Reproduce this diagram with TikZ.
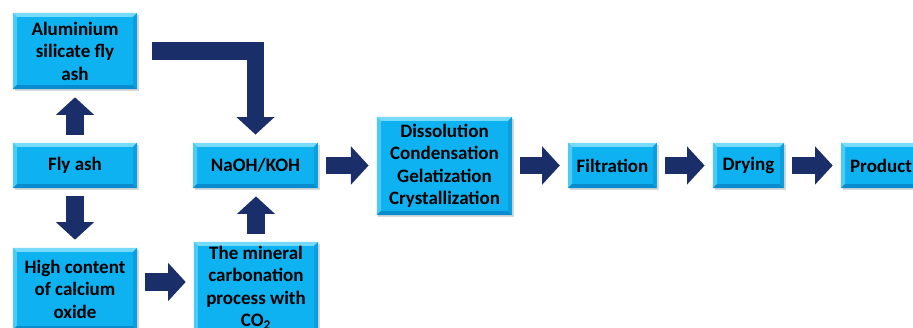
\documentclass[tikz,border=0pt]{standalone}
\usepackage{fontspec}
\setmainfont{Carlito}
\usetikzlibrary{arrows.meta,shadows}
\definecolor{boxblue}{RGB}{14,178,240}
\definecolor{boxlight}{RGB}{120,218,250}
\definecolor{boxdark}{RGB}{8,140,205}
\definecolor{arrowblue}{RGB}{26,46,106}
\tikzset{
	stepbox/.style={fill=boxblue,inner sep=0pt,align=center,font=\fontsize{13.5}{16}\selectfont\bfseries,
		drop shadow={opacity=0.3,shadow xshift=0.04cm,shadow yshift=-0.05cm},
		path picture={
			\fill[boxlight] (path picture bounding box.north west) -- (path picture bounding box.north east) -- ([shift={(-0.1cm,-0.1cm)}]path picture bounding box.north east) -- ([shift={(0.1cm,-0.1cm)}]path picture bounding box.north west) -- cycle;
			\fill[boxlight!60!boxblue] (path picture bounding box.north west) -- ([shift={(0.1cm,-0.1cm)}]path picture bounding box.north west) -- ([shift={(0.1cm,0.1cm)}]path picture bounding box.south west) -- (path picture bounding box.south west) -- cycle;
			\fill[boxdark] (path picture bounding box.south west) -- (path picture bounding box.south east) -- ([shift={(-0.1cm,0.1cm)}]path picture bounding box.south east) -- ([shift={(0.1cm,0.1cm)}]path picture bounding box.south west) -- cycle;
			\fill[boxdark!50!boxblue] (path picture bounding box.north east) -- ([shift={(-0.1cm,-0.1cm)}]path picture bounding box.north east) -- ([shift={(-0.1cm,0.1cm)}]path picture bounding box.south east) -- (path picture bounding box.south east) -- cycle;
		}},
	flowarrow/.style={draw=arrowblue,line width=0.43cm,line join=miter,-{Triangle[length=0.44cm,width=0.93cm]},shorten <=0.2cm,shorten >=0.2cm}
}
\begin{document}
\begin{tikzpicture}[x=0.025cm,y=-0.025cm]
	\path[use as bounding box,clip] (0,0) rectangle (913,328);
	
	\node[stepbox,minimum width=3.1cm,minimum height=1.9cm] (alu) at (75,51) {Aluminium\\silicate fly\\ash};
	\node[stepbox,minimum width=3.1cm,minimum height=1.13cm] (flyash) at (75,165.5) {Fly ash};
	\node[stepbox,minimum width=3.1cm,minimum height=2.05cm] (calcium) at (75,289) {High content\\of calcium\\oxide};
	
	\node[stepbox,minimum width=3.12cm,minimum height=1.13cm] (naoh) at (255.5,165.5) {NaOH/KOH};
	\node[stepbox,minimum width=3.1cm,minimum height=2.3cm] (carbonation) at (256,288) {The mineral\\carbonation\\process with\\CO\textsubscript{2}};
	
	\node[stepbox,minimum width=3.38cm,minimum height=2.45cm] (dissolution) at (444.5,166) {Dissolution\\Condensation\\Gelatization\\Crystallization};
	\node[stepbox,minimum width=2.22cm,minimum height=1.13cm] (filtration) at (612.5,165.5) {Filtration};
	\node[stepbox,minimum width=1.78cm,minimum height=1.13cm] (drying) at (748.5,165.5) {Drying};
	\node[stepbox,minimum width=2cm,minimum height=1.13cm] (product) at (881,165.5) {Product};
	
	\draw[flowarrow] (flyash.north) -- (alu.south);
	\draw[flowarrow] (flyash.south) -- (calcium.north);
	\draw[flowarrow,shorten <=0.375cm] (alu.east) -| (naoh.north);
	\draw[flowarrow] ([shift={(0,-7)}]calcium.east) -- ([shift={(0,-7)}]calcium.east -| carbonation.west);
	\draw[flowarrow] (carbonation.north) -- (carbonation.north |- naoh.south);
	\draw[flowarrow] (naoh.east) -- (naoh.east -| dissolution.west);
	\draw[flowarrow] (dissolution.east |- filtration.west) -- (filtration.west);
	\draw[flowarrow] (filtration.east) -- (drying.west);
	\draw[flowarrow] (drying.east) -- (product.west);
\end{tikzpicture}
\end{document}
